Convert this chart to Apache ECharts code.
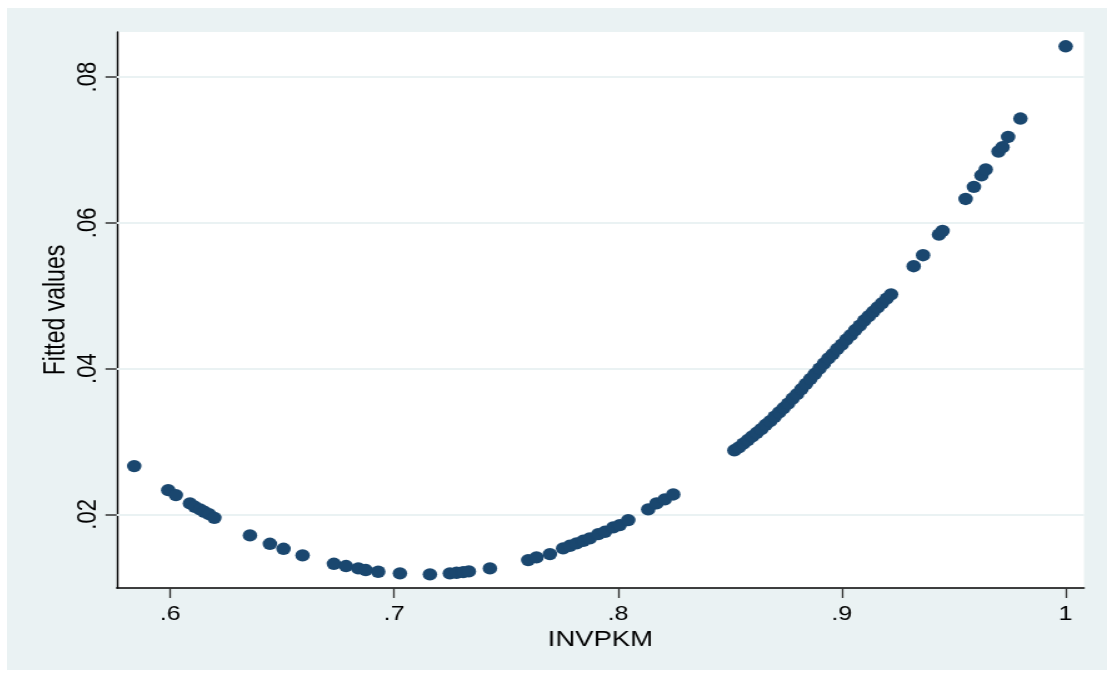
<!DOCTYPE html>
<html>
<head>
<meta charset="utf-8">
<script src="https://cdn.jsdelivr.net/npm/echarts@6/dist/echarts.min.js"></script>
<style>
  html, body { margin: 0; padding: 0; background: #fff; overflow: hidden; }
  /* the source graph is stretched sideways, so the chart is drawn narrower and widened */
  #chart {
    position: absolute; left: 7px; top: 8px; width: 880px; height: 662px;
    transform: scaleX(1.25); transform-origin: 0 0;
  }
</style>
</head>
<body>
<div id="chart"></div>
<script>
// INVPKM (x) and fitted values (y)
const invpkm = [
  0.5839, 0.5991, 0.6025, 0.6088, 0.6110, 0.6133, 0.6152, 0.6173, 0.6197,
  0.6356, 0.6445, 0.6506, 0.6591, 0.6731, 0.6785, 0.6840, 0.6873, 0.6929,
  0.7026, 0.7160, 0.7249, 0.7279, 0.7309, 0.7334, 0.7428,
  0.7599, 0.7636, 0.7696, 0.7755, 0.7785, 0.7815, 0.7845, 0.7874, 0.7912,
  0.7942, 0.7979, 0.8008, 0.8046, 0.8135, 0.8172, 0.8209, 0.8247,
  0.852, 0.854, 0.856, 0.858, 0.860, 0.862, 0.864, 0.866, 0.868, 0.870,
  0.872, 0.874, 0.876, 0.878, 0.880, 0.882, 0.884, 0.886, 0.888, 0.890,
  0.892, 0.894, 0.896, 0.898, 0.900, 0.902, 0.904, 0.906, 0.908, 0.910,
  0.912, 0.914, 0.916, 0.918, 0.920, 0.922,
  0.9321, 0.9363, 0.9434, 0.9450, 0.9553, 0.9590, 0.9624, 0.9643,
  0.9700, 0.9718, 0.9743, 0.9798, 1.0000
];
const fittedValues = [
  0.02663, 0.02333, 0.02265, 0.02151, 0.02104, 0.02069, 0.02036, 0.02004, 0.01953,
  0.01712, 0.01597, 0.01528, 0.01438, 0.01322, 0.01291, 0.01259, 0.01236, 0.01213,
  0.01191, 0.01177, 0.01191, 0.01199, 0.01208, 0.01218, 0.01259,
  0.01373, 0.01410, 0.01455, 0.01534, 0.01569, 0.01602, 0.01638, 0.01671, 0.01730,
  0.01761, 0.01822, 0.01853, 0.01922, 0.02069, 0.02151, 0.02206, 0.02274,
  0.0288, 0.0292, 0.0297, 0.0302, 0.0307, 0.0312, 0.0317, 0.0323, 0.0328, 0.0334,
  0.0340, 0.0346, 0.0352, 0.0359, 0.0365, 0.0372, 0.0379, 0.0386, 0.0393, 0.0400,
  0.0407, 0.0414, 0.0420, 0.0427, 0.0433, 0.0440, 0.0446, 0.0453, 0.0459, 0.0466,
  0.0472, 0.0478, 0.0484, 0.0490, 0.0496, 0.0502,
  0.05406, 0.05557, 0.0584, 0.0589, 0.06329, 0.06494, 0.06654, 0.06733,
  0.0698, 0.0704, 0.0718, 0.07432, 0.08424
];
const xTicks = [0.6, 0.7, 0.8, 0.9, 1];
const yTicks = [0.02, 0.04, 0.06, 0.08];

const navy = '#1a476f';
const bg = '#eaf2f3';
const font = '"Liberation Sans", Arial, sans-serif';
const stataLabel = v => String(+v.toFixed(2)).replace(/^0\./, '.');

const points = invpkm.map((x, i) => [x, fittedValues[i]]);

const chart = echarts.init(document.getElementById('chart'));
chart.setOption({
  animation: false,
  backgroundColor: bg,
  grid: {
    show: true,
    left: 87.8,
    right: 18.4,
    top: 24,
    bottom: 82,
    backgroundColor: '#fff',
    borderWidth: 0
  },
  xAxis: {
    type: 'value',
    min: 0.5761,
    max: 1.0082,
    name: 'INVPKM',
    nameLocation: 'middle',
    nameGap: 38,
    nameTextStyle: { fontFamily: font, fontSize: 22, color: '#000' },
    axisLine: { onZero: false, lineStyle: { color: '#000', width: 1.5 } },
    axisTick: { customValues: xTicks, length: 10, lineStyle: { color: '#333', width: 1.3 } },
    axisLabel: {
      customValues: xTicks,
      margin: 16,
      fontFamily: font,
      fontSize: 20,
      color: '#000',
      formatter: stataLabel
    },
    splitLine: { show: false }
  },
  yAxis: {
    type: 'value',
    min: 0.0099,
    max: 0.0862,
    name: 'Fitted values',
    nameLocation: 'middle',
    nameGap: 37,
    nameMoveOverlap: false,
    nameRotate: 90,
    nameTextStyle: { fontFamily: font, fontSize: 23, color: '#000' },
    axisLine: { show: true, onZero: false, lineStyle: { color: '#000', width: 1.4 } },
    axisTick: { show: true, customValues: yTicks, length: 9, lineStyle: { color: '#333', width: 1.5 } },
    axisLabel: {
      customValues: yTicks,
      rotate: 90,
      margin: 12,
      fontFamily: font,
      fontSize: 22,
      color: '#000',
      formatter: stataLabel
    },
    splitLine: { show: false }
  },
  series: [
    {
      // horizontal grid lines, kept behind the points
      type: 'scatter',
      data: [],
      z: 1,
      silent: true,
      markLine: {
        z: 1,
        silent: true,
        symbol: 'none',
        label: { show: false },
        lineStyle: { color: bg, type: 'solid', width: 2 },
        data: yTicks.map(v => ({ yAxis: v }))
      }
    },
    {
      name: 'Fitted values',
      type: 'scatter',
      z: 3,
      symbol: 'circle',
      symbolSize: [11.6, 12.4],
      itemStyle: { color: navy, opacity: 1 },
      data: points
    }
  ]
});
</script>
</body>
</html>
